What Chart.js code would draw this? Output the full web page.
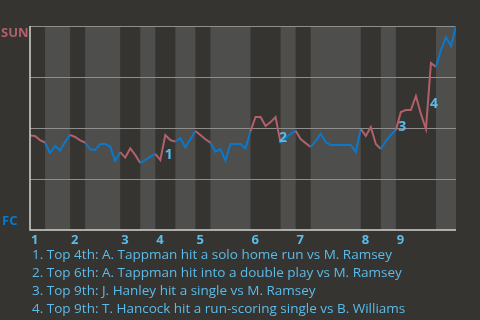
<!DOCTYPE html>
<html>
<head>
<meta charset="utf-8">
<script src="https://cdn.jsdelivr.net/npm/chart.js@4"></script>
<style>
  html, body { margin: 0; padding: 0; background: #363430; }
  #wrap { width: 480px; height: 320px; }
</style>
</head>
<body>
<div id="wrap"><canvas id="wpChart" width="480" height="320"></canvas></div>
<script>
// SUN win probability (%) after each plate appearance
const winProb = [
  46.3, 46.1, 44.1, 42.9, 37.7, 41.2, 39.0, 43.1, 46.6, 45.6,
  43.9, 42.9, 39.7, 39.2, 42.2, 42.2, 40.9, 33.8, 38.2, 35.5,
  40.0, 36.8, 32.8, 34.3, 36.0, 37.3, 34.3, 46.6, 44.1, 43.3,
  45.0, 40.5, 44.5, 48.5, 46.6, 44.5, 42.8, 38.4, 39.6, 34.0,
  42.2, 42.2, 42.2, 40.0, 48.5, 55.4, 55.4, 51.0, 52.9, 55.4,
  42.6, 45.1, 47.1, 48.7, 44.6, 42.6, 40.7, 43.6, 47.1, 43.1,
  41.7, 41.7, 41.7, 41.7, 41.7, 38.2, 49.5, 46.1, 50.5, 42.2,
  39.7, 43.6, 46.6, 49.0, 57.8, 58.8, 58.8, 65.7, 56.9, 49.5,
  81.9, 79.9, 88.2, 94.6, 90.2, 100
];
// plate appearance index where each half inning starts (last = end of game)
const halfStarts = [0, 3, 8, 11, 18, 22, 25, 29, 33, 36, 44, 50, 53, 56, 66, 70, 73, 81, 85];
const innings = ["1", "2", "3", "4", "5", "6", "7", "8", "9"];
const teams = ["SUN", "FC"];
const noteMarks = ["1", "2", "3", "4"];
const noteAt = [[27.7, 36.8], [50.5, 45.1], [74.3, 50.5], [80.6, 61.8]];
const notes = [
  "1. Top 4th: A. Tappman hit a solo home run vs M. Ramsey",
  "2. Top 6th: A. Tappman hit into a double play vs M. Ramsey",
  "3. Top 9th: J. Hanley hit a single vs M. Ramsey",
  "4. Top 9th: T. Hancock hit a run-scoring single vs B. Williams"
];

const RED = "#b2606a";
const BLUE = "#0b78c9";
const LIGHT = "#5bbbea";
const FONT = "'Open Sans', sans-serif";

function halfOf(pa) {
  for (let h = 0; h < halfStarts.length - 1; h++) {
    if (pa > halfStarts[h] && pa <= halfStarts[h + 1]) return h;
  }
  return 0;
}

const inningBands = {
  id: "inningBands",
  beforeDatasetsDraw(chart) {
    const { ctx, chartArea, scales } = chart;
    ctx.save();
    ctx.fillStyle = "#4e4e4c";
    for (let h = 1; h < halfStarts.length - 1; h += 2) {
      const x0 = scales.x.getPixelForValue(halfStarts[h]);
      const x1 = scales.x.getPixelForValue(halfStarts[h + 1]);
      ctx.fillRect(x0, chartArea.top, x1 - x0, chartArea.bottom - chartArea.top);
    }
    // grid lines over the bands
    ctx.strokeStyle = "#8e8e8c";
    ctx.lineWidth = 1;
    [25, 50, 75, 100].forEach(v => {
      const y = Math.round(scales.y.getPixelForValue(v)) + 0.5;
      ctx.beginPath();
      ctx.moveTo(chartArea.left, y);
      ctx.lineTo(chartArea.right, y);
      ctx.stroke();
    });
    ctx.restore();
  }
};

const extras = {
  id: "extras",
  afterDraw(chart) {
    const { ctx, chartArea, scales } = chart;
    ctx.save();
    // axes
    ctx.strokeStyle = "#d2d2d0";
    ctx.lineWidth = 1.5;
    ctx.beginPath();
    ctx.moveTo(chartArea.left, chartArea.top);
    ctx.lineTo(chartArea.left, chartArea.bottom);
    ctx.lineTo(chartArea.right, chartArea.bottom);
    ctx.stroke();

    // team labels
    ctx.font = "bold 13px " + FONT;
    ctx.textAlign = "left";
    ctx.textBaseline = "middle";
    ctx.fillStyle = RED;
    ctx.fillText(teams[0], 1, chartArea.top + 7);
    ctx.fillStyle = BLUE;
    ctx.fillText(teams[1], 2, chartArea.bottom - 9);

    // inning numbers
    ctx.fillStyle = LIGHT;
    innings.forEach((lab, i) => {
      const x = scales.x.getPixelForValue(halfStarts[i * 2]);
      ctx.fillText(lab, x + 1, chartArea.bottom + 10);
    });

    // note markers on the plot
    ctx.font = "bold 14px " + FONT;
    ctx.textAlign = "center";
    noteMarks.forEach((m, i) => {
      ctx.fillText(m, scales.x.getPixelForValue(noteAt[i][0]), scales.y.getPixelForValue(noteAt[i][1]));
    });

    // notes
    ctx.font = "13.5px " + FONT;
    ctx.textAlign = "left";
    notes.forEach((t, i) => {
      ctx.fillText(t, 32, chartArea.bottom + 25 + i * 18);
    });
    ctx.restore();
  }
};

new Chart(document.getElementById("wpChart"), {
  type: "line",
  data: {
    labels: winProb.map((_, i) => i),
    datasets: [{
      data: winProb.map((v, i) => ({ x: i, y: v })),
      borderWidth: 2,
      pointRadius: 0,
      tension: 0,
      segment: {
        borderColor: c => (halfOf(c.p1DataIndex) % 2 === 0 ? RED : BLUE)
      }
    }]
  },
  options: {
    responsive: false,
    animation: false,
    layout: { padding: { top: 26, right: 24, left: 0, bottom: 0 } },
    plugins: { legend: { display: false }, tooltip: { enabled: false } },
    scales: {
      x: {
        type: "linear",
        min: 0,
        max: halfStarts[halfStarts.length - 1],
        grid: { display: false },
        border: { display: false },
        ticks: { display: false },
        afterFit: s => { s.height = 90; }
      },
      y: {
        min: 0,
        max: 100,
        grid: { display: false },
        border: { display: false },
        ticks: { display: false, stepSize: 25 },
        afterFit: s => { s.width = 30; }
      }
    }
  },
  plugins: [inningBands, extras]
});
</script>
</body>
</html>
